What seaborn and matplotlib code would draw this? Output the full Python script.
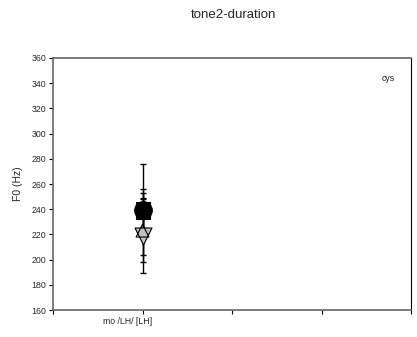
import matplotlib
matplotlib.use("Agg")
import matplotlib.pyplot as plt
import seaborn as sns
import pandas as pd

# Data
categories = ["mo /LH/ [LH]"]
series_names = ["s1", "s2", "s3", "s4", "s5"]
means = [240, 238, 239, 219, 223]
errors = [36, 18, 14, 30, 25]
markers = ["s", "s", "o", "v", "^"]
face_colors = ["black", "black", "black", "#c0c0c0", "none"]
sizes = [115, 115, 160, 150, 85]

y_ticks = list(range(160, 361, 20))
title = "tone2-duration"
ylabel = "F0 (Hz)"
legend_text = "cys"

sns.set_theme(style="white")
plt.rcParams["font.family"] = ["Liberation Sans", "DejaVu Sans"]

fig = plt.figure(figsize=(4.17, 3.37), dpi=100)
ax = fig.add_axes([0.127, 0.080, 0.859, 0.748])

df = pd.DataFrame({"x": [1] * len(means), "y": means, "err": errors,
                   "series": series_names})

# error bars
for i, row in df.iterrows():
    ax.errorbar(row["x"], row["y"], yerr=row["err"], fmt="none",
                ecolor="black", elinewidth=1.0, capsize=2, capthick=1.0,
                zorder=2)

for i, name in enumerate(series_names):
    sub = df[df["series"] == name]
    fc = face_colors[i]
    sns.scatterplot(data=sub, x="x", y="y", marker=markers[i], s=sizes[i],
                    color="black" if fc == "none" else fc,
                    facecolor=fc, edgecolor="black", linewidth=0.8,
                    ax=ax, zorder=3 + i, legend=False)

ax.set_xlim(0, 4)
ax.set_ylim(160, 360)
ax.set_yticks(y_ticks)
ax.set_yticklabels([str(v) for v in y_ticks], fontsize=6.3)
ax.set_xticks([0, 1, 2, 3, 4])
ax.set_xticklabels([""] * 5)
ax.set_xticks([0.83], minor=True)
ax.set_xticklabels(categories, minor=True, fontsize=6.3)
ax.tick_params(axis="x", which="minor", length=0, pad=5)
ax.tick_params(axis="both", which="major", direction="out", length=3,
               width=0.8, color="black", pad=2, bottom=True, left=True)
ax.set_xlabel("")
ax.set_ylabel(ylabel, fontsize=7.5, labelpad=6)

for side in ["left", "bottom", "top"]:
    ax.spines[side].set_color("#666666")
    ax.spines[side].set_linewidth(1.2)
ax.spines["right"].set_color("black")
ax.spines["right"].set_linewidth(0.8)

ax.text(0.935, 0.92, legend_text, transform=ax.transAxes, fontsize=6.3,
        ha="center", va="center")
fig.text(0.56, 0.955, title, ha="center", va="center", fontsize=9.5)

fig.savefig("out.png", dpi=100)
